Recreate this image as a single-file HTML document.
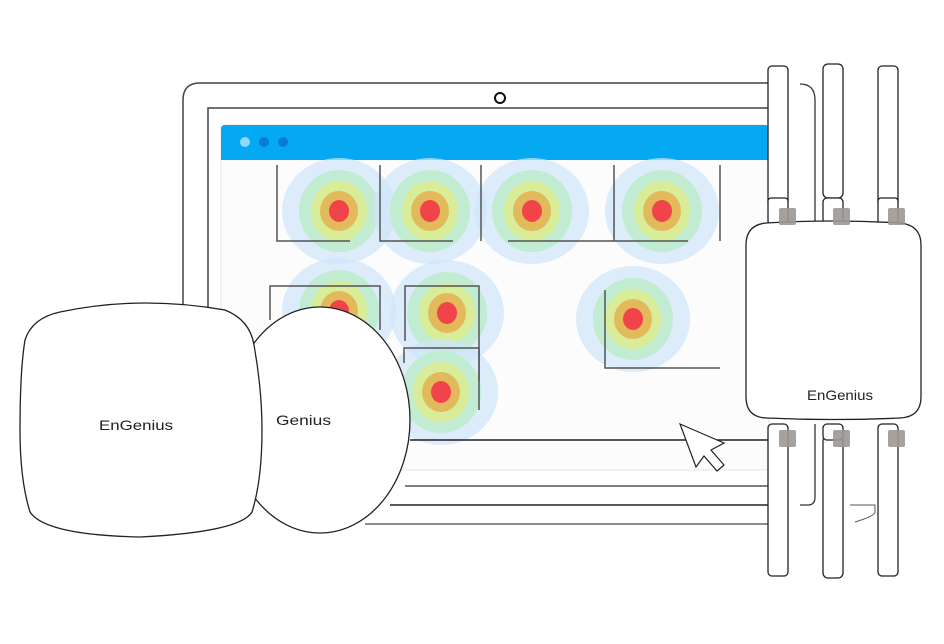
<!DOCTYPE html>
<html><head><meta charset="utf-8"><style>html,body{margin:0;padding:0;background:#fff;width:944px;height:644px;overflow:hidden}</style></head><body>
<svg width="944" height="644" viewBox="0 0 944 644" xmlns="http://www.w3.org/2000/svg" font-family="Liberation Sans, sans-serif">
<defs>
<g id="hm">
<ellipse rx="57" ry="53" fill="#cfe6fb" opacity="0.7"/>
<ellipse rx="40" ry="41" fill="#bfeccf" opacity="0.95"/>
<ellipse rx="28" ry="30" fill="#d9ec98"/>
<ellipse rx="19" ry="20" fill="#e2b95b"/>
<ellipse rx="10" ry="11" fill="#f0434a"/>
</g>
</defs>
<path d="M183 330 V100 Q183 83 200 83 H778" fill="none" stroke="#444" stroke-width="1.5"/>
<path d="M208 330 V108 H778" fill="none" stroke="#444" stroke-width="1.5"/>
<circle cx="500" cy="98" r="5" fill="none" stroke="#111" stroke-width="2"/>
<rect x="221" y="125" width="548" height="345" rx="4" fill="#fcfcfc" stroke="#e4e4e4"/>
<path d="M221 160 V129 Q221 125 225 125 H765 Q769 125 769 129 V160 Z" fill="#05a9f2"/>
<circle cx="245" cy="142" r="5" fill="#8fd8fa"/>
<circle cx="264" cy="142" r="5" fill="#0a7ad8"/>
<circle cx="283" cy="142" r="5" fill="#0a7ad8"/>
<use href="#hm" x="339" y="211"/>
<use href="#hm" x="430" y="211"/>
<use href="#hm" x="532" y="211"/>
<use href="#hm" x="662" y="211"/>
<use href="#hm" x="339" y="311"/>
<use href="#hm" x="447" y="313"/>
<use href="#hm" x="441" y="392"/>
<use href="#hm" x="633" y="319"/>
<g fill="none" stroke="#555" stroke-width="1.5">
<path d="M277 165 V241 H350"/>
<path d="M380 165 V241 H453"/>
<path d="M481 165 V241"/>
<path d="M508 241 H688"/>
<path d="M614 165 V241"/>
<path d="M720 165 V241"/>
<path d="M270 320 V286 H380 V330"/>
<path d="M405 341 V286 H479 V381"/>
<path d="M404 363 V348 H479 V410"/>
<path d="M605 290 V368 H720"/>
</g>
<path d="M410 440 H780" stroke="#222" stroke-width="1.5"/>
<path d="M405 486 H780" stroke="#555" stroke-width="1.5"/>
<path d="M390 505 H780" stroke="#222" stroke-width="1.5"/>
<path d="M365 524 H780" stroke="#666" stroke-width="1.5"/>
<path d="M680 424 L724 443 L711 450 L724 465 L717 471 L704 456 L696 467 Z" fill="#fff" stroke="#222" stroke-width="1.2"/>
<g fill="#fff" stroke="#222" stroke-width="1.3">
<rect x="768" y="66" width="20" height="140" rx="4"/>
<rect x="768" y="198" width="20" height="26" rx="3"/>
<rect x="823" y="64" width="20" height="134" rx="5"/>
<rect x="823" y="198" width="20" height="26" rx="4"/>
<rect x="878" y="66" width="20" height="140" rx="4"/>
<rect x="878" y="198" width="20" height="26" rx="3"/>
<rect x="768" y="424" width="20" height="152" rx="4"/>
<rect x="823" y="436" width="20" height="142" rx="5"/>
<rect x="823" y="424" width="20" height="16" rx="4"/>
<rect x="878" y="424" width="20" height="152" rx="4"/>
</g>
<path d="M800 84 Q815 84 815 100 V225" fill="none" stroke="#333" stroke-width="1.3"/>
<path d="M815 424 V497 Q815 505 808 505 H800" fill="none" stroke="#333" stroke-width="1.3"/>
<path d="M850 505 H875 V512 Q875 516 855 522" fill="none" stroke="#555" stroke-width="1"/>
<path d="M746 245 Q746 225 766 223 Q833 219 900 223 Q921 225 921 245 V397 Q921 417 900 418 Q833 421 766 418 Q746 417 746 397 Z" fill="#fff" stroke="#222" stroke-width="1.3"/>
<g fill="#9d9793" opacity="0.9">
<rect x="779" y="208" width="17" height="17" rx="2"/>
<rect x="833" y="208" width="17" height="17" rx="2"/>
<rect x="888" y="208" width="17" height="17" rx="2"/>
<rect x="779" y="430" width="17" height="17" rx="2"/>
<rect x="833" y="430" width="17" height="17" rx="2"/>
<rect x="888" y="430" width="17" height="17" rx="2"/>
</g>
<text x="807" y="400" font-size="14" fill="#222" textLength="66" lengthAdjust="spacingAndGlyphs">EnGenius</text>
<ellipse cx="320" cy="420" rx="90" ry="113" fill="#fff" stroke="#222" stroke-width="1.3"/>
<text x="276" y="425" font-size="14" fill="#222" textLength="55" lengthAdjust="spacingAndGlyphs">Genius</text>
<path d="M60 312 Q140 295 225 310 Q250 320 254 345 Q262 390 262 430 Q262 480 252 512 Q240 532 140 537 Q45 535 30 512 Q20 480 20 430 Q20 370 25 340 Q32 318 60 312 Z" fill="#fff" stroke="#222" stroke-width="1.3"/>
<text x="99" y="430" font-size="14" fill="#222" textLength="74" lengthAdjust="spacingAndGlyphs">EnGenius</text>
</svg>
</body></html>
